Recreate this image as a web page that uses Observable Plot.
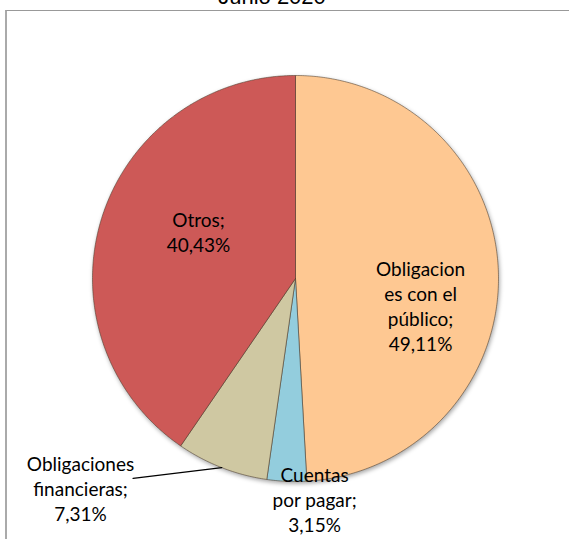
<!DOCTYPE html>
<html>
<head>
<meta charset="utf-8">
<script src="https://cdn.jsdelivr.net/npm/d3@7"></script>
<script src="https://cdn.jsdelivr.net/npm/@observablehq/plot@0.6"></script>
<style>
html, body { margin: 0; padding: 0; background: #fff; overflow: hidden; }
#wrap { position: relative; width: 569px; height: 539px; overflow: hidden; }
#chart { position: absolute; left: 0; top: 0; }
#chart svg { background: transparent !important; }
#title { position: absolute; left: 0; width: 544px; top: -14px; text-align: center;
  font: 22px "Liberation Sans", Arial, sans-serif; line-height: 22px; color: #000; }
#frame { position: absolute; left: 5px; top: 10px; width: 700px; height: 700px;
  border-top: 1px solid #999; border-left: 2px solid #aaa; pointer-events: none; }
</style>
</head>
<body>
<div id="wrap">
  <div id="chart"></div>
  <div id="title">Junio 2020</div>
  <div id="frame"></div>
</div>
<script>
// ---- data ----
const categories = ["Obligaciones con el público", "Cuentas por pagar", "Obligaciones financieras", "Otros"];
const values = [49.11, 3.15, 7.31, 40.43];
const nameLines = [
  ["Obligacion", "es con el", "público;"],
  ["Cuentas", "por pagar;"],
  ["Obligaciones", "financieras;"],
  ["Otros;"]
];
const colors = ["#FEC892", "#93CDDD", "#CFC8A2", "#CD5957"];

// ---- layout (unit-circle coordinates, separate from data) ----
const labelPos = [[0.616, 0.101], [0.094, -0.914], [-1.059, -0.860], [-0.478, 0.342]];
const leaderStart = [-0.80, -0.985]; // for "Obligaciones financieras"

// ---- build slices from values ----
const total = d3.sum(values);
const fmt = v => d3.format(".2f")(v).replace(".", ",") + "%";
let acc = 0;
const slices = values.map((v, i) => {
  const a0 = acc / total * 2 * Math.PI;
  acc += v;
  const a1 = acc / total * 2 * Math.PI;
  return {name: categories[i], a0, a1, value: v};
});
const points = [];
for (const s of slices) {
  points.push({name: s.name, x: 0, y: 0});
  const n = Math.max(2, Math.ceil((s.a1 - s.a0) / (Math.PI / 360)));
  for (let k = 0; k <= n; k++) {
    const a = s.a0 + (s.a1 - s.a0) * k / n;
    points.push({name: s.name, x: Math.sin(a), y: Math.cos(a)});
  }
  points.push({name: s.name, x: 0, y: 0});
}
const labels = slices.map((s, i) => ({
  x: labelPos[i][0], y: labelPos[i][1],
  text: [...nameLines[i], fmt(s.value)].join("\n")
}));
const fin = slices[2];
const mid = (fin.a0 + fin.a1) / 2;
const leader = [
  {x: leaderStart[0], y: leaderStart[1]},
  {x: Math.sin(mid), y: Math.cos(mid)}
];

const chart = Plot.plot({
  width: 569, height: 539,
  marginLeft: 92, marginRight: 71, marginTop: 75, marginBottom: 58,
  x: {domain: [-1, 1], axis: null},
  y: {domain: [-1, 1], axis: null},
  color: {domain: categories, range: colors},
  style: {background: "transparent", overflow: "visible"},
  marks: [
    Plot.line(points, {x: "x", y: "y", z: "name", fill: "name", stroke: "#4a3a2a",
      strokeOpacity: 0.55, strokeWidth: 1, curve: "linear", strokeLinejoin: "round"}),
    Plot.line(leader, {x: "x", y: "y", stroke: "#000", strokeWidth: 1.3}),
    Plot.text(labels, {x: "x", y: "y", text: "text", lineAnchor: "top", textAnchor: "middle",
      fontSize: 19, lineHeight: 1.316, fontFamily: "Lato, 'Noto Sans', sans-serif", fill: "#000"})
  ]
});
document.getElementById("chart").appendChild(chart);
const pie = chart.querySelector('g[aria-label="line"]');
if (pie) pie.style.filter = "drop-shadow(1px 2px 2px rgba(0,0,0,0.35))";
</script>
</body>
</html>
